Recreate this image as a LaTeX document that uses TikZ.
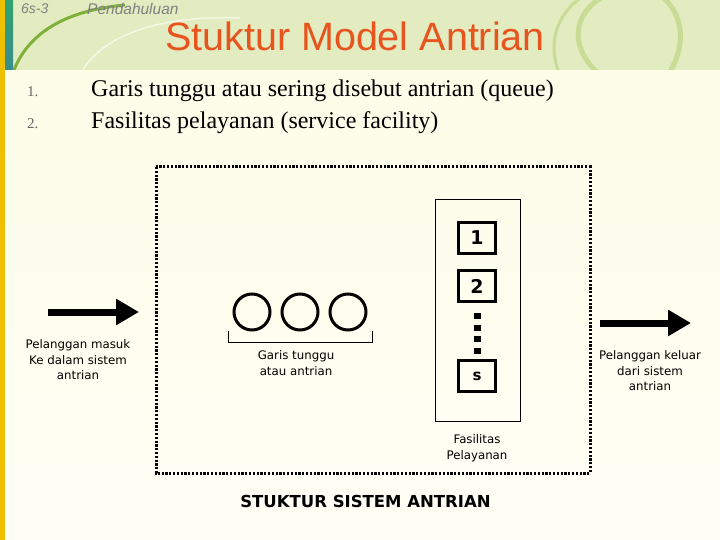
\documentclass[tikz,border=0pt]{standalone}
\usepackage{fontspec}
\setmainfont{Liberation Serif}
\newfontfamily\tah{DejaVu Sans}
\newfontfamily\arl{Liberation Sans}
\usetikzlibrary{arrows.meta}
\definecolor{hdr}{HTML}{E2ECC0}
\definecolor{cream}{HTML}{FDFDE8}
\definecolor{arcg}{HTML}{C9DC96}
\definecolor{arcd}{HTML}{7FB03A}
\definecolor{ttl}{HTML}{E8541E}
\definecolor{gold}{HTML}{EFC000}
\definecolor{teal}{HTML}{3C8C8C}
\tikzset{
  lbl/.style={font=\tah\fontsize{11.8}{15.5}\selectfont, align=center, inner sep=0pt},
  srv/.style={draw, line width=3pt, minimum width=37pt, minimum height=31pt, inner sep=0pt, font=\tah\bfseries\fontsize{19}{20}\selectfont},
  cust/.style={draw, circle, line width=3pt, minimum size=36pt, inner sep=0pt},
  bigarrow/.style={line width=7pt, -{Triangle[length=23pt,width=25pt]}},
  dotframe/.style={line width=3pt, dash pattern=on 2.2pt off 1.6pt},
}
\begin{document}
\begin{tikzpicture}[x=1pt,y=-1pt]
\useasboundingbox (0,0) rectangle (720,540);
% background
\fill[cream] (0,0) rectangle (720,540);
\shade[top color=cream, bottom color=white!60!cream] (0,70) rectangle (720,540);
\fill[hdr] (0,0) rectangle (720,70);
% decorative arcs
\begin{scope}
\clip (0,0) rectangle (720,70);
\draw[arcg, line width=5pt] (600,75) .. controls (560,40) and (580,0) .. (620,-10);
\draw[arcg, line width=5pt] (668,75) .. controls (690,40) and (680,10) .. (660,-5);
\draw[arcg, line width=3pt] (560,75) .. controls (545,40) and (560,10) .. (585,-5);
\draw[white!60!hdr, line width=1.5pt] (80,75) .. controls (100,35) and (160,15) .. (240,18);
\draw[arcd, line width=3pt] (14,70) .. controls (30,30) and (70,10) .. (125,5);
\end{scope}
\fill[gold] (0,0) rectangle (5,540);
\shade[top color=teal!80!green, bottom color=teal] (5,0) rectangle (13,70);
% header texts
\node[anchor=west, text=gray, font=\arl\itshape\fontsize{14}{15}\selectfont, inner sep=0pt] (sec) at (21,9) {6s-3};
\node[anchor=west, text=gray, font=\arl\itshape\fontsize{15.5}{16}\selectfont, inner sep=0pt] (chap) at (87,9) {Pendahuluan};
\node[text=ttl, font=\arl\fontsize{39.5}{44}\selectfont, inner sep=0pt] (title) at (355,36) {Stuktur Model Antrian};
% list
\node[anchor=base west, text=gray!80!black, font=\fontsize{15}{16}\selectfont, inner sep=0pt] (n1) at (27,97) {1.};
\node[anchor=base west, text=gray!80!black, font=\fontsize{15}{16}\selectfont, inner sep=0pt] (n2) at (27,129) {2.};
\node[anchor=base west, font=\fontsize{24}{26}\selectfont, inner sep=0pt] (l1) at (91,97) {Garis tunggu atau sering disebut antrian (queue)};
\node[anchor=base west, font=\fontsize{24}{26}\selectfont, inner sep=0pt] (l2) at (91,129) {Fasilitas pelayanan (service facility)};
% frame
\draw[dotframe] (156,167) rectangle (590,473);
% service facility
\node[draw, line width=0.8pt, minimum width=85pt, minimum height=222pt, inner sep=0pt] (fac) at (477.5,310) {};
\node[srv] (s1) at (477,238) {1};
\node[srv] (s2) at (477,286) {2};
\node[srv, font=\tah\bfseries\fontsize{15}{16}\selectfont] (ss) at (477,376) {s};
\draw[line width=7pt, dash pattern=on 6pt off 5.5pt] (477.5,313) -- (477.5,356);
% customers
\node[cust] (c1) at (252,312) {};
\node[cust] (c2) at (300,312) {};
\node[cust] (c3) at (348,312) {};
\draw[line width=0.8pt] (228.5,331) -- (228.5,342) -- (372,342) -- (372,331);
\node[lbl] (qlbl) at (296,363) {Garis tunggu\\atau antrian};
\node[lbl] (flbl) at (477,448) {Fasilitas\\Pelayanan};
\node[font=\tah\bfseries\fontsize{16.5}{18}\selectfont, inner sep=0pt] (cap) at (365.5,501) {STUKTUR SISTEM ANTRIAN};
% arrows
\coordinate (inA) at (48,312);
\coordinate (inB) at (139,312);
\draw[bigarrow] (inA) -- (inB);
\node[lbl] (inlbl) at (78,360) {Pelanggan masuk\\Ke dalam sistem\\antrian};
\coordinate (outA) at (600,323);
\coordinate (outB) at (691,323);
\draw[bigarrow] (outA) -- (outB);
\node[lbl] (outlbl) at (650,371) {Pelanggan keluar\\dari sistem\\antrian};
\end{tikzpicture}
\end{document}
